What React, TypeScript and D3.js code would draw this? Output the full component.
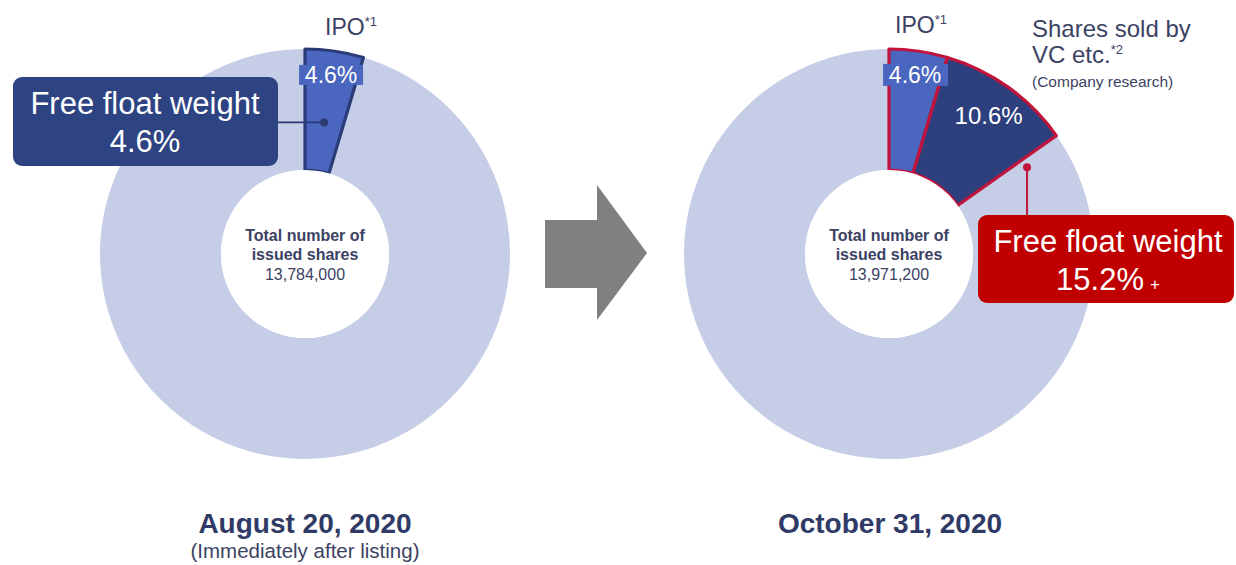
import React from "react";
import * as d3 from "d3";

// ---- data ----
const leftCategories = ["IPO", "Other shareholders"];
const leftValues = [4.6, 95.4];
const rightCategories = ["IPO", "Shares sold by VC etc.", "Other shareholders"];
const rightValues = [4.6, 10.6, 84.8];
const totalShares = ["13,784,000", "13,971,200"];
const dateLabels = ["August 20, 2020", "October 31, 2020"];
const subLabels = ["(Immediately after listing)", ""];
const freeFloat = ["4.6%", "15.2%"];

const FONT = "Arial, 'Liberation Sans', sans-serif";
const RING = "#c6cde6";
const IPO_BLUE = "#4a66bf";
const NAVY = "#2e3f7d";
const NAVY_BOX = "#2e4382";
const RED_BOX = "#c00000";
const RED_LINE = "#c0143c";
const TXT = "#3c4263";

const R_OUT = 205;
const R_IN = 84;

function polar(cx: number, cy: number, angle: number, r: number) {
  return [cx + r * Math.sin(angle), cy - r * Math.cos(angle)];
}

function Donut({ cx, cy, cats, vals, highlightStroke, highlightFills, total }: any) {
  const pie = d3.pie<number>().sort(null).value((d) => d)(vals);
  const arc = d3.arc<any>().innerRadius(R_IN).outerRadius(R_OUT);
  const n = vals.length;
  return (
    <g transform={`translate(${cx},${cy})`}>
      {pie.map((p, i) =>
        i === n - 1 ? <path key={cats[i]} d={arc(p) as string} fill={RING} /> : null
      )}
      {pie.map((p, i) =>
        i < n - 1 ? (
          <path
            key={cats[i]}
            d={arc(p) as string}
            fill={highlightFills[i]}
            stroke={highlightStroke}
            strokeWidth={3.2}
            strokeLinejoin="round"
          />
        ) : null
      )}
      <circle r={R_IN} fill="#ffffff" />
      <text textAnchor="middle" fontFamily={FONT} fill={TXT} fontSize={16}>
        <tspan x={0} y={-13} fontWeight="bold">Total number of</tspan>
        <tspan x={0} y={6} fontWeight="bold">issued shares</tspan>
        <tspan x={0} y={26}>{total}</tspan>
      </text>
    </g>
  );
}

export default function App() {
  const L = { cx: 305, cy: 254 };
  const Rr = { cx: 889, cy: 254 };
  const leftPie = d3.pie<number>().sort(null).value((d) => d)(leftValues);
  const rightPie = d3.pie<number>().sort(null).value((d) => d)(rightValues);

  const lMid = (leftPie[0].startAngle + leftPie[0].endAngle) / 2;
  const [lLabX, lLabY] = polar(L.cx, L.cy, lMid, 181);
  const [lDotX, lDotY] = polar(L.cx, L.cy, lMid, 133);

  const rMid0 = (rightPie[0].startAngle + rightPie[0].endAngle) / 2;
  const [r0X, r0Y] = polar(Rr.cx, Rr.cy, rMid0, 181);
  const rMid1 = (rightPie[1].startAngle + rightPie[1].endAngle) / 2;
  const [r1X, r1Y] = polar(Rr.cx, Rr.cy, rMid1, 171);
  const [rDotX, rDotY] = polar(Rr.cx, Rr.cy, rightPie[1].endAngle + 0.055, 163);

  return (
    <div style={{ position: "absolute", left: 0, top: 0 }}>
      <svg width={1236} height={565} style={{ display: "block", background: "#fff" }}>
        {/* Left donut */}
        <Donut
          cx={L.cx}
          cy={L.cy}
          cats={leftCategories}
          vals={leftValues}
          highlightStroke="#2b3b78"
          highlightFills={[IPO_BLUE]}
          total={totalShares[0]}
        />
        {/* left 4.6% label */}
        <rect x={lLabX - 32} y={lLabY - 10} width={64} height={20} fill={IPO_BLUE} />
        <text x={lLabX} y={lLabY + 8} textAnchor="middle" fontFamily={FONT} fontSize={23} fill="#fff">
          {`${leftValues[0]}%`}
        </text>
        {/* IPO label left */}
        <text x={325} y={35} fontFamily={FONT} fontSize={23} fill={TXT}>
          {leftCategories[0]}
          <tspan fontSize={13} dy={-9}>*1</tspan>
        </text>
        {/* left callout */}
        <line x1={278} y1={lDotY} x2={lDotX} y2={lDotY} stroke="#2b3b78" strokeWidth={1.8} />
        <circle cx={lDotX} cy={lDotY} r={4} fill="#2b3b6e" />
        <rect x={13} y={77} width={265} height={89} rx={9} fill={NAVY_BOX} />
        <text textAnchor="middle" fontFamily={FONT} fontSize={31} fill="#fff">
          <tspan x={145} y={114}>Free float weight</tspan>
          <tspan x={145} y={152}>{freeFloat[0]}</tspan>
        </text>

        {/* Arrow */}
        <path
          d="M545,220 L597,220 L597,185 L647,253 L597,320 L597,288 L545,288 Z"
          fill="#808080"
        />

        {/* Right donut */}
        <Donut
          cx={Rr.cx}
          cy={Rr.cy}
          cats={rightCategories}
          vals={rightValues}
          highlightStroke={RED_LINE}
          highlightFills={[IPO_BLUE, NAVY]}
          total={totalShares[1]}
        />
        <rect x={r0X - 32} y={r0Y - 11} width={65} height={22} fill={IPO_BLUE} />
        <text x={r0X} y={r0Y + 8} textAnchor="middle" fontFamily={FONT} fontSize={23} fill="#fff">
          {`${rightValues[0]}%`}
        </text>
        <text x={r1X} y={r1Y + 9} textAnchor="middle" fontFamily={FONT} fontSize={24} fill="#fff">
          {`${rightValues[1]}%`}
        </text>
        <text x={895} y={33} fontFamily={FONT} fontSize={23} fill={TXT}>
          {rightCategories[0]}
          <tspan fontSize={13} dy={-9}>*1</tspan>
        </text>
        <text x={1032} y={37} fontFamily={FONT} fontSize={24} fill={TXT}>
          Shares sold by
        </text>
        <text x={1032} y={63} fontFamily={FONT} fontSize={24} fill={TXT}>
          VC etc.
          <tspan fontSize={13} dy={-9}>*2</tspan>
        </text>
        <text x={1032} y={87} fontFamily={FONT} fontSize={15.5} fill={TXT}>
          (Company research)
        </text>
        {/* right callout */}
        <line x1={rDotX} y1={rDotY} x2={rDotX} y2={215} stroke={RED_LINE} strokeWidth={2} />
        <circle cx={rDotX} cy={rDotY} r={4} fill={RED_LINE} />
        <rect x={978} y={215} width={256} height={88} rx={9} fill={RED_BOX} />
        <text textAnchor="middle" fontFamily={FONT} fontSize={31} fill="#fff">
          <tspan x={1108} y={252}>Free float weight</tspan>
        </text>
        <text textAnchor="middle" fontFamily={FONT} fill="#fff">
          <tspan x={1108} y={290} fontSize={31}>{freeFloat[1]}</tspan>
          <tspan fontSize={17} dx={6}>+</tspan>
        </text>

        {/* date labels */}
        <text x={305} y={533} textAnchor="middle" fontFamily={FONT} fontSize={28} fontWeight="bold" fill="#2f3a66">
          {dateLabels[0]}
        </text>
        <text x={305} y={558} textAnchor="middle" fontFamily={FONT} fontSize={20.5} fill={TXT}>
          {subLabels[0]}
        </text>
        <text x={890} y={533} textAnchor="middle" fontFamily={FONT} fontSize={28} fontWeight="bold" fill="#2f3a66">
          {dateLabels[1]}
        </text>
      </svg>
    </div>
  );
}
